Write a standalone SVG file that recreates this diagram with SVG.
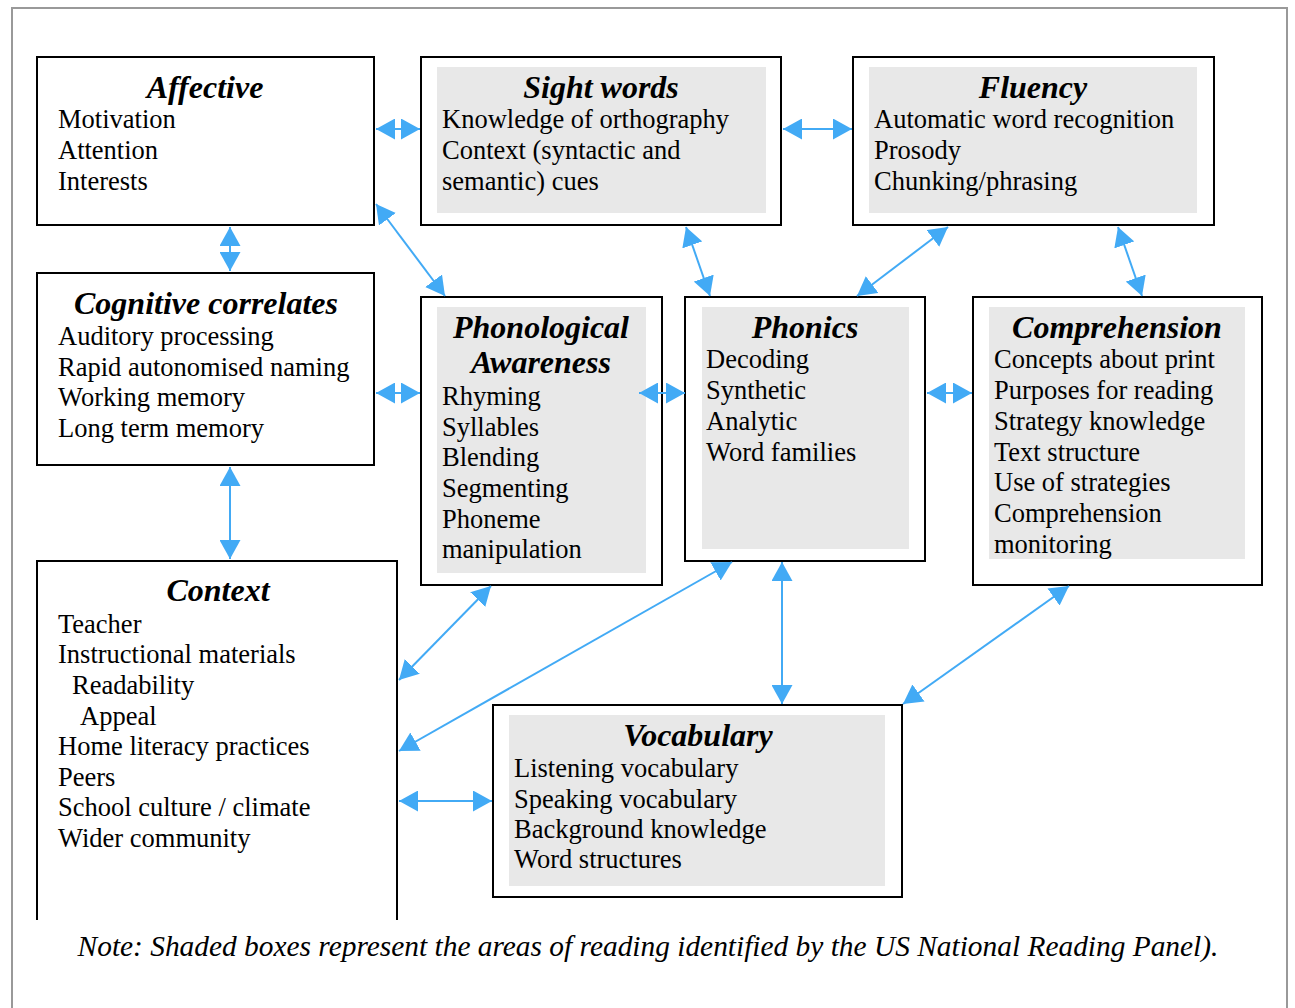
<svg xmlns="http://www.w3.org/2000/svg" width="1295" height="1008" viewBox="0 0 1295 1008">
<defs>
<style>
.box{fill:#fff;stroke:#000;stroke-width:2}
.shade{fill:#e8e8e8}
.t{font-family:"Liberation Serif",serif;font-size:32px;font-weight:bold;font-style:italic;text-anchor:middle;fill:#000}
.b{font-family:"Liberation Serif",serif;font-size:26.5px;fill:#000}
.c{stroke:#42aaf5;stroke-width:2;fill:none;marker-start:url(#ah);marker-end:url(#ah)}
.note{font-family:"Liberation Serif",serif;font-size:29.4px;font-style:italic;text-anchor:middle;fill:#000}
</style>
<marker id="ah" viewBox="0 0 19 21" refX="19" refY="10.5" markerWidth="19" markerHeight="21" markerUnits="userSpaceOnUse" orient="auto-start-reverse">
<path d="M0,0 L19,10.5 L0,21 Z" fill="#42aaf5"/>
</marker>
</defs>
<rect x="0" y="0" width="1295" height="1008" fill="#fff"/>
<path d="M12,1008 V8 H1287 V1008" fill="none" stroke="#999" stroke-width="2"/>

<g id="affective">
<rect class="box" x="37" y="57" width="337" height="168"/>
<text class="t" x="205" y="98">Affective</text>
<text class="b" x="58" y="128">Motivation</text>
<text class="b" x="58" y="159">Attention</text>
<text class="b" x="58" y="190">Interests</text>
</g>

<g id="sight-words">
<rect class="box" x="421" y="57" width="360" height="168"/>
<rect class="shade" x="437" y="67" width="329" height="146"/>
<text class="t" x="601" y="98">Sight words</text>
<text class="b" x="442" y="128">Knowledge of orthography</text>
<text class="b" x="442" y="159">Context (syntactic and</text>
<text class="b" x="442" y="190">semantic) cues</text>
</g>

<g id="fluency">
<rect class="box" x="853" y="57" width="361" height="168"/>
<rect class="shade" x="869" y="67" width="328" height="146"/>
<text class="t" x="1033" y="98">Fluency</text>
<text class="b" x="874" y="128">Automatic word recognition</text>
<text class="b" x="874" y="159">Prosody</text>
<text class="b" x="874" y="190">Chunking/phrasing</text>
</g>

<g id="cognitive-correlates">
<rect class="box" x="37" y="273" width="337" height="192"/>
<text class="t" x="206" y="314">Cognitive correlates</text>
<text class="b" x="58" y="345">Auditory processing</text>
<text class="b" x="58" y="376">Rapid autonomised naming</text>
<text class="b" x="58" y="406">Working memory</text>
<text class="b" x="58" y="437">Long term memory</text>
</g>

<g id="phonological-awareness">
<rect class="box" x="421" y="297" width="241" height="288"/>
<rect class="shade" x="437" y="307" width="209" height="266"/>
<text class="t" x="541" y="338">Phonological</text>
<text class="t" x="541" y="373">Awareness</text>
<text class="b" x="442" y="405">Rhyming</text>
<text class="b" x="442" y="436">Syllables</text>
<text class="b" x="442" y="466">Blending</text>
<text class="b" x="442" y="497">Segmenting</text>
<text class="b" x="442" y="528">Phoneme</text>
<text class="b" x="442" y="558">manipulation</text>
</g>

<g id="phonics">
<rect class="box" x="685" y="297" width="240" height="264"/>
<rect class="shade" x="702" y="307" width="207" height="242"/>
<text class="t" x="805" y="338">Phonics</text>
<text class="b" x="706" y="368">Decoding</text>
<text class="b" x="706" y="399">Synthetic</text>
<text class="b" x="706" y="430">Analytic</text>
<text class="b" x="706" y="461">Word families</text>
</g>

<g id="comprehension">
<rect class="box" x="973" y="297" width="289" height="288"/>
<rect class="shade" x="989" y="307" width="256" height="252"/>
<text class="t" x="1117" y="338">Comprehension</text>
<text class="b" x="994" y="368">Concepts about print</text>
<text class="b" x="994" y="399">Purposes for reading</text>
<text class="b" x="994" y="430">Strategy knowledge</text>
<text class="b" x="994" y="461">Text structure</text>
<text class="b" x="994" y="491">Use of strategies</text>
<text class="b" x="994" y="522">Comprehension</text>
<text class="b" x="994" y="553">monitoring</text>
</g>

<g id="context">
<path d="M37,920 V561 H397 V920" fill="none" stroke="#000" stroke-width="2"/>
<text class="t" x="218" y="601">Context</text>
<text class="b" x="58" y="633">Teacher</text>
<text class="b" x="58" y="663">Instructional materials</text>
<text class="b" x="72" y="694">Readability</text>
<text class="b" x="80" y="725">Appeal</text>
<text class="b" x="58" y="755">Home literacy practices</text>
<text class="b" x="58" y="786">Peers</text>
<text class="b" x="58" y="816">School culture / climate</text>
<text class="b" x="58" y="847">Wider community</text>
</g>

<g id="vocabulary">
<rect class="box" x="493" y="705" width="409" height="192"/>
<rect class="shade" x="509" y="715" width="376" height="171"/>
<text class="t" x="698" y="746">Vocabulary</text>
<text class="b" x="514" y="777">Listening vocabulary</text>
<text class="b" x="514" y="808">Speaking vocabulary</text>
<text class="b" x="514" y="838">Background knowledge</text>
<text class="b" x="514" y="868">Word structures</text>
</g>

<g id="connectors">
<line class="c" x1="376" y1="129" x2="420" y2="129"/>
<line class="c" x1="783" y1="129" x2="852" y2="129"/>
<line class="c" x1="230" y1="227" x2="230" y2="271"/>
<line class="c" x1="376" y1="204" x2="445" y2="296"/>
<line class="c" x1="686" y1="227" x2="710" y2="296"/>
<line class="c" x1="948" y1="227" x2="857" y2="296"/>
<line class="c" x1="1118" y1="227" x2="1142" y2="296"/>
<line class="c" x1="376" y1="393" x2="420" y2="393"/>
<line class="c" x1="639" y1="393" x2="685" y2="393"/>
<line class="c" x1="927" y1="393" x2="972" y2="393"/>
<line class="c" x1="230" y1="467" x2="230" y2="559"/>
<line class="c" x1="491" y1="586" x2="399" y2="680"/>
<line class="c" x1="732" y1="562" x2="399" y2="751"/>
<line class="c" x1="782" y1="562" x2="782" y2="704"/>
<line class="c" x1="1069" y1="586" x2="903" y2="704"/>
<line class="c" x1="399" y1="801" x2="492" y2="801"/>
</g>

<text class="note" x="648" y="956">Note: Shaded boxes represent the areas of reading identified by the US National Reading Panel).</text>
</svg>
